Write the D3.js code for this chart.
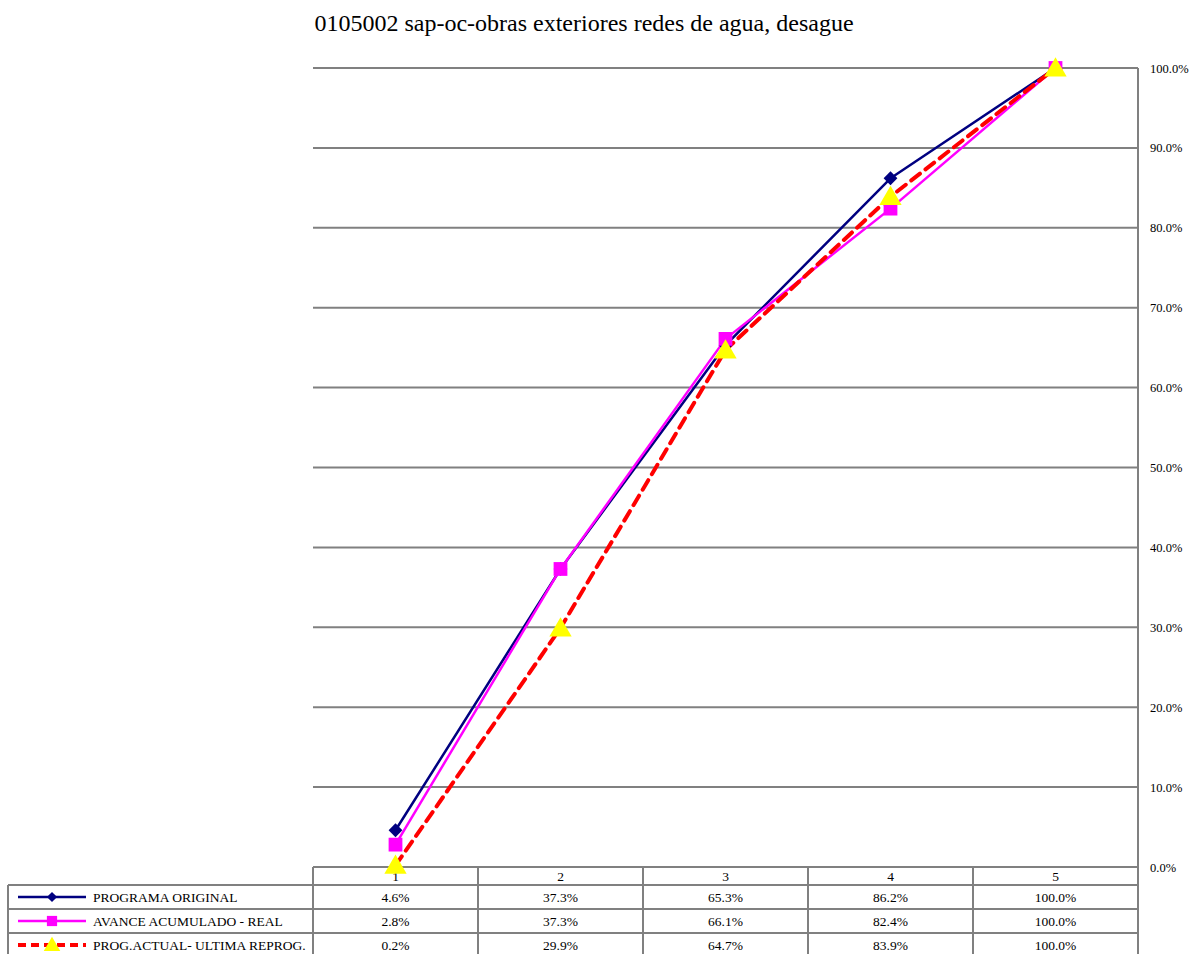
<!DOCTYPE html>
<html>
<head>
<meta charset="utf-8">
<script src="https://cdn.jsdelivr.net/npm/d3@7"></script>
<style>
  html, body { margin: 0; padding: 0; background: #fff; }
  svg { display: block; }
</style>
</head>
<body>
<svg id="chart" width="1190" height="954"></svg>
<script>
// Chart content
const title = "0105002 sap-oc-obras exteriores redes de agua, desague";
const categories = ["1", "2", "3", "4", "5"];
const seriesNames = ["PROGRAMA ORIGINAL", "AVANCE ACUMULADO - REAL", "PROG.ACTUAL- ULTIMA REPROG."];
const programaOriginal = [4.6, 37.3, 65.3, 86.2, 100.0];
const avanceReal = [2.8, 37.3, 66.1, 82.4, 100.0];
const progActual = [0.2, 29.9, 64.7, 83.9, 100.0];
const yTicks = [0, 10, 20, 30, 40, 50, 60, 70, 80, 90, 100];

const FONT = "'Liberation Serif', 'Times New Roman', 'DejaVu Serif', serif";

const series = [
  { name: seriesNames[0], values: programaOriginal, color: "#000080", width: 2.5, dash: null, marker: "diamond", mcolor: "#000080" },
  { name: seriesNames[1], values: avanceReal, color: "#ff00ff", width: 2.5, dash: null, marker: "square", mcolor: "#ff00ff" },
  { name: seriesNames[2], values: progActual, color: "#ff0000", width: 4, dash: "11,7", marker: "triangle", mcolor: "#ffff00" }
];

const svg = d3.select("#chart").attr("font-family", FONT);
const plot = { left: 313, right: 1138, top: 68, bottom: 867 };
const grid = "#808080";

const x = d3.scaleBand().domain(categories).range([plot.left, plot.right]);
const y = d3.scaleLinear().domain([0, 100]).range([plot.bottom, plot.top]);

// Title
svg.append("text")
  .attr("x", 584).attr("y", 31)
  .attr("text-anchor", "middle")
  .attr("font-family", FONT)
  .attr("font-size", 24)
  .text(title);

// Horizontal gridlines
svg.append("g").selectAll("line").data(yTicks).join("line")
  .attr("x1", plot.left).attr("x2", plot.right)
  .attr("y1", d => y(d)).attr("y2", d => y(d))
  .attr("stroke", grid).attr("stroke-width", 2);

// Right value axis
const yAxis = d3.axisRight(y).tickValues(yTicks).tickSize(0).tickPadding(12)
  .tickFormat(d => d3.format(".1f")(d) + "%");
const ga = svg.append("g").attr("transform", `translate(${plot.right},0)`).call(yAxis)
  .attr("font-family", FONT).attr("font-size", 12.5);
ga.select(".domain").remove();
ga.selectAll("text").attr("fill", "#000");
svg.append("line")
  .attr("x1", plot.right).attr("x2", plot.right)
  .attr("y1", plot.top).attr("y2", 954)
  .attr("stroke", grid).attr("stroke-width", 2);

// Data table under the plot
const tableTop = plot.bottom, headH = 18, rowH = 24, legendLeft = 8;
const tg = svg.append("g").attr("font-family", FONT).attr("font-size", 13.5);
// header row (category labels)
tg.append("line").attr("x1", plot.left).attr("x2", plot.right)
  .attr("y1", tableTop).attr("y2", tableTop).attr("stroke", grid).attr("stroke-width", 2);
categories.forEach((c, i) => {
  tg.append("text")
    .attr("x", x(c) + x.bandwidth() / 2).attr("y", tableTop + 14)
    .attr("text-anchor", "middle").text(c);
});
// horizontal rules of the value rows
for (let r = 0; r <= series.length; r++) {
  const yy = tableTop + headH + r * rowH;
  tg.append("line").attr("x1", legendLeft).attr("x2", plot.right)
    .attr("y1", yy).attr("y2", yy).attr("stroke", grid).attr("stroke-width", 2);
}
// vertical rules
const tableBottom = tableTop + headH + series.length * rowH;
categories.forEach(c => {
  tg.append("line").attr("x1", x(c)).attr("x2", x(c))
    .attr("y1", tableTop).attr("y2", tableBottom).attr("stroke", grid).attr("stroke-width", 2);
});
tg.append("line").attr("x1", legendLeft).attr("x2", legendLeft)
  .attr("y1", tableTop + headH).attr("y2", tableBottom).attr("stroke", grid).attr("stroke-width", 2);

// marker symbols (diamond = square turned 45 degrees)
const symbolFor = m => m === "triangle" ? d3.symbolTriangle : d3.symbolSquare;
const sizeFor = m => m === "diamond" ? 95 : m === "square" ? 190 : 215;
const rotFor = m => m === "diamond" ? 45 : 0;
const offFor = m => m === "triangle" ? 2 : 0;

series.forEach((s, r) => {
  const rowY = tableTop + headH + r * rowH;
  // values
  s.values.forEach((v, i) => {
    tg.append("text")
      .attr("x", x(categories[i]) + x.bandwidth() / 2).attr("y", rowY + 17)
      .attr("text-anchor", "middle")
      .text(d3.format(".1f")(v) + "%");
  });
  // legend key
  const ky = rowY + rowH / 2;
  tg.append("line").attr("x1", 18).attr("x2", 86).attr("y1", ky).attr("y2", ky)
    .attr("stroke", s.color).attr("stroke-width", s.width)
    .attr("stroke-dasharray", s.dash ? "8,5" : null);
  tg.append("path").attr("d", d3.symbol().type(symbolFor(s.marker)).size(sizeFor(s.marker) * 0.55)())
    .attr("transform", `translate(52,${ky + offFor(s.marker) * 0.6}) rotate(${rotFor(s.marker)})`)
    .attr("fill", s.mcolor);
  tg.append("text").attr("x", 93).attr("y", rowY + 17).text(s.name);
});

// Lines and markers
const line = d3.line().x((d, i) => x(categories[i]) + x.bandwidth() / 2).y(d => y(d));
const lg = svg.append("g");
series.forEach(s => {
  lg.append("path").datum(s.values)
    .attr("d", line).attr("fill", "none")
    .attr("stroke", s.color).attr("stroke-width", s.width)
    .attr("stroke-dasharray", s.dash)
    .attr("stroke-linejoin", "round").attr("stroke-linecap", s.dash ? "round" : "butt");
});
series.forEach(s => {
  lg.append("g").selectAll("path").data(s.values).join("path")
    .attr("d", d3.symbol().type(symbolFor(s.marker)).size(sizeFor(s.marker))())
    .attr("transform", (d, i) => `translate(${x(categories[i]) + x.bandwidth() / 2},${y(d) + offFor(s.marker)}) rotate(${rotFor(s.marker)})`)
    .attr("fill", s.mcolor);
});
</script>
</body>
</html>
